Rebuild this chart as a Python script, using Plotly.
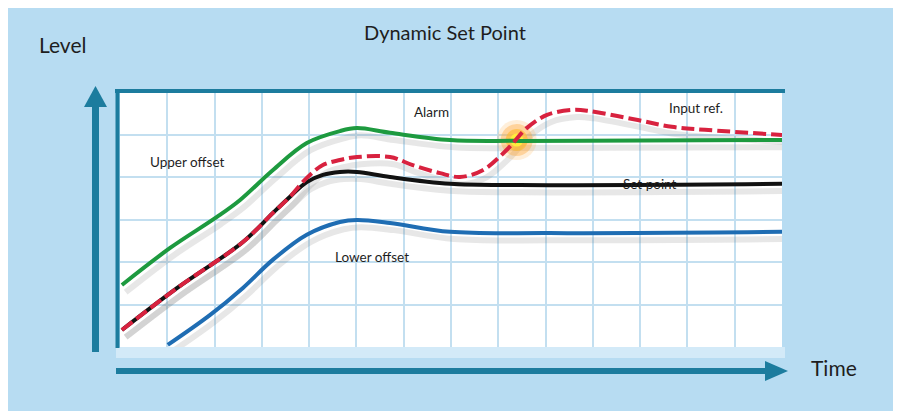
import plotly.graph_objects as go

# ---- data (grid units: time 0..14, level 0..6) ----
t_upper = [0.04, 1.06, 2.05, 2.54, 3.23, 3.95, 4.65, 5.01, 5.71, 6.98, 8.46, 14.0]
upper_offset = [1.46, 2.33, 3.06, 3.46, 4.16, 4.80, 5.08, 5.15, 5.04, 4.87, 4.85, 4.87]

t_set = [0.04, 1.21, 2.60, 3.23, 3.59, 3.95, 4.29, 4.65, 5.01, 5.71, 6.98, 8.46, 14.0]
set_point = [0.40, 1.39, 2.47, 3.15, 3.53, 3.88, 4.05, 4.12, 4.12, 4.00, 3.84, 3.81, 3.84]

t_input = [0.04, 1.21, 2.60, 3.23, 3.59, 3.95, 4.29, 4.65, 5.01, 5.71, 6.19, 6.77, 7.19, 7.67,
           8.18, 8.60, 9.03, 9.58, 9.94, 10.95, 11.67, 12.37, 14.0]
input_ref = [0.40, 1.39, 2.47, 3.15, 3.53, 3.98, 4.28, 4.40, 4.47, 4.47, 4.28, 4.09, 4.00, 4.16,
             4.64, 5.15, 5.46, 5.58, 5.55, 5.34, 5.18, 5.11, 4.99]

t_lower = [1.01, 1.90, 2.60, 3.23, 3.95, 4.65, 5.01, 5.71, 6.98, 9.09, 14.0]
lower_offset = [0.05, 0.75, 1.39, 2.05, 2.64, 2.94, 2.99, 2.92, 2.71, 2.68, 2.71]

alarm_t = [8.39]
alarm_level = [4.87]

OFF = 8  # page margin visible (top/left) in the reference screenshot
W, H = 901 - OFF, 411 - OFF
def fx(px): return (px - OFF) / W
def fy(py): return 1 - (py - OFF) / H

BG = "#b7dcf2"
TEAL = "#1c7c9e"
GREEN = "#1d9a3f"
BLUE = "#1f6db3"
RED = "#d8223f"
BLACK = "#121212"
SHADOW = "rgba(120,120,120,0.18)"
SDX, SDY = 0.08, -0.17

fig = go.Figure()

series = [
    (t_lower, lower_offset, BLUE, None),
    (t_upper, upper_offset, GREEN, None),
    (t_set, set_point, BLACK, None),
    (t_input, input_ref, RED, "13px,5px"),
]

# shadows
for t, v, c, d in series:
    fig.add_trace(go.Scatter(
        x=[a + SDX for a in t], y=[b + SDY for b in v], mode="lines",
        line=dict(color=SHADOW, width=6, shape="spline", smoothing=1.0),
        hoverinfo="skip", showlegend=False))

# alarm glow
for size, col in [(40, "rgba(255,175,70,0.2)"), (32, "rgba(255,160,40,0.35)"),
                  (22, "rgba(255,185,40,0.6)"), (13, "rgba(255,240,60,0.95)")]:
    fig.add_trace(go.Scatter(x=alarm_t, y=alarm_level, mode="markers",
                             marker=dict(size=size, color=col, line=dict(width=0)),
                             hoverinfo="skip", showlegend=False))

for t, v, c, d in series:
    fig.add_trace(go.Scatter(
        x=t, y=v, mode="lines",
        line=dict(color=c, width=4, shape="spline", smoothing=1.0, dash=d if d else "solid"),
        showlegend=False))

shapes = [
    # light band below plot
    dict(type="rect", xref="paper", yref="paper", x0=fx(116), x1=fx(785), y0=fy(358), y1=fy(347),
         fillcolor="#d3eaf8", line_width=0, layer="below"),
    # plot frame top & left
    dict(type="line", xref="paper", yref="paper", x0=fx(115), x1=fx(785), y0=fy(91), y1=fy(91),
         line=dict(color=TEAL, width=4)),
    dict(type="line", xref="paper", yref="paper", x0=fx(117.5), x1=fx(117.5), y0=fy(90), y1=fy(348),
         line=dict(color=TEAL, width=4)),
    # y arrow
    dict(type="rect", xref="paper", yref="paper", x0=fx(92), x1=fx(99), y0=fy(352), y1=fy(104),
         fillcolor=TEAL, line_width=0),
    dict(type="path", xref="paper", yref="paper",
         path=f"M {fx(84)},{fy(107)} L {fx(95.5)},{fy(86)} L {fx(107)},{fy(107)} Z",
         fillcolor=TEAL, line_width=0),
    # x arrow
    dict(type="rect", xref="paper", yref="paper", x0=fx(116), x1=fx(768), y0=fy(374), y1=fy(368),
         fillcolor=TEAL, line_width=0),
    dict(type="path", xref="paper", yref="paper",
         path=f"M {fx(765)},{fy(361)} L {fx(788)},{fy(371)} L {fx(765)},{fy(381)} Z",
         fillcolor=TEAL, line_width=0),
]

FONT = "Lato, 'Open Sans', sans-serif"
ann = [
    dict(text="Dynamic Set Point", xref="paper", yref="paper", x=fx(445), y=fy(32), size=20),
    dict(text="Level", xref="paper", yref="paper", x=fx(62), y=fy(45), size=21),
    dict(text="Time", xref="paper", yref="paper", x=fx(834), y=fy(367), size=21),
    dict(text="Upper offset", xref="x", yref="y", x=1.42, y=4.35, size=13.5),
    dict(text="Alarm", xref="x", yref="y", x=6.58, y=5.53, size=13.5),
    dict(text="Input ref.", xref="x", yref="y", x=12.18, y=5.62, size=13.5),
    dict(text="Set point", xref="x", yref="y", x=11.2, y=3.84, size=13.5),
    dict(text="Lower offset", xref="x", yref="y", x=5.33, y=2.12, size=13.5),
]
annotations = [dict(text=a["text"], xref=a["xref"], yref=a["yref"], x=a["x"], y=a["y"],
                    showarrow=False, xanchor="center", yanchor="middle",
                    font=dict(family=FONT, size=a["size"], color="#1e1e1e")) for a in ann]

fig.update_layout(
    width=W, height=H, margin=dict(l=0, r=0, t=0, b=0),
    paper_bgcolor=BG, plot_bgcolor="white",
    shapes=shapes, annotations=annotations,
    xaxis=dict(domain=[fx(120), fx(782)], range=[0, 14], dtick=1, showgrid=True,
               gridcolor="#c3dff0", gridwidth=1.5, zeroline=False, showticklabels=False,
               ticks="", showline=False, fixedrange=True),
    yaxis=dict(domain=[fy(347), fy(92)], range=[0, 6], dtick=1, showgrid=True,
               gridcolor="#c3dff0", gridwidth=1.5, zeroline=False, showticklabels=False,
               ticks="", showline=False, fixedrange=True),
    showlegend=False,
)

fig.write_html("out.html")
